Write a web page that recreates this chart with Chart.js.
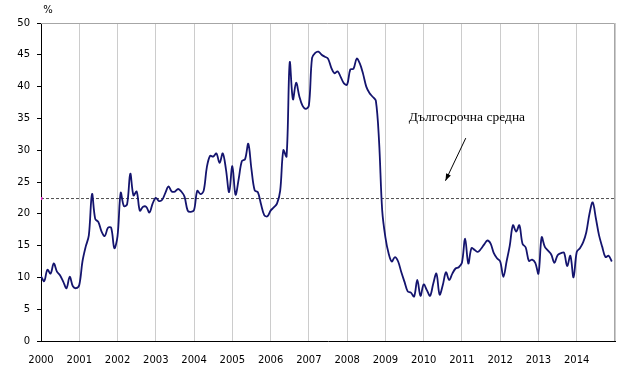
<!DOCTYPE html>
<html><head><meta charset="utf-8">
<script src="https://cdn.jsdelivr.net/npm/chart.js@4/dist/chart.umd.min.js"></script>
<style>html,body{margin:0;padding:0;background:#fff;}canvas{display:block;}</style>
</head><body>
<canvas id="c" width="635" height="370"></canvas>
<script>
// Tick labels (years) and monthly series, one array per year
const yearLabels = ['2000','2001','2002','2003','2004','2005','2006','2007','2008','2009','2010','2011','2012','2013','2014'];
const startYear = 2000;
const v2000 = [10.2, 9.4, 11.2, 10.6, 12.2, 10.9, 10.3, 9.3, 8.3, 10.1, 8.6, 8.3];
const v2001 = [8.8, 12.5, 14.8, 16.6, 23.1, 19.2, 18.7, 17.2, 16.5, 17.8, 17.8, 14.6];
const v2002 = [16.5, 23.3, 21.2, 21.5, 26.3, 22.9, 23.5, 20.5, 21.1, 21.1, 20.2, 21.6];
const v2003 = [22.5, 22.0, 22.2, 23.3, 24.3, 23.5, 23.5, 23.9, 23.5, 22.7, 20.5, 20.3];
const v2004 = [20.6, 23.6, 23.1, 23.6, 27.3, 29.1, 29.0, 29.5, 28.0, 29.5, 27.0, 23.4];
const v2005 = [27.5, 23.0, 25.5, 28.3, 28.6, 31.0, 27.0, 23.7, 23.4, 21.5, 19.8, 19.6];
const v2006 = [20.5, 21.0, 21.6, 23.6, 30.0, 29.0, 43.8, 38.0, 40.6, 38.5, 37.0, 36.5];
const v2007 = [37.0, 44.5, 45.3, 45.5, 45.0, 44.7, 44.4, 43.0, 42.1, 42.4, 41.5, 40.5];
const v2008 = [40.3, 42.7, 42.8, 44.4, 43.6, 42.0, 40.0, 39.0, 38.4, 37.8, 31.5, 20.5];
const v2009 = [16.3, 13.8, 12.5, 13.2, 12.5, 10.8, 9.3, 7.8, 7.6, 7.0, 9.6, 7.1];
const v2010 = [8.9, 8.0, 7.1, 9.0, 10.6, 7.3, 8.8, 10.8, 9.6, 10.6, 11.4, 11.6];
const v2011 = [12.3, 16.1, 12.2, 14.6, 14.3, 14.0, 14.5, 15.2, 15.8, 15.3, 13.8, 13.0];
const v2012 = [12.5, 10.1, 12.5, 15.0, 18.2, 17.2, 18.2, 15.3, 14.7, 12.6, 12.8, 12.3];
const v2013 = [10.6, 16.3, 14.8, 14.2, 13.6, 12.3, 13.5, 13.8, 13.9, 11.8, 13.4, 10.0];
const v2014 = [14.0, 14.6, 15.5, 17.1, 20.0, 21.8, 19.3, 16.6, 14.8, 13.2, 13.4, 12.5];
const monthlyValues = [].concat(v2000, v2001, v2002, v2003, v2004, v2005, v2006, v2007,
  v2008, v2009, v2010, v2011, v2012, v2013, v2014);
const longTermAverage = 22.4;
const unitLabel = '%';
const noteText = 'Дългосрочна средна';
const notePos = [2011.13, 35.2];          // text anchor (x in years, y in %)
const arrowFrom = [2011.1, 31.9];
const arrowTo = [2010.57, 25.2];

const endYear = startYear + yearLabels.length;
const lineData = monthlyValues.map((v, i) => ({x: startYear + i / 12, y: v}));

Chart.defaults.font.family = '"DejaVu Sans", Verdana, sans-serif';
Chart.defaults.font.size = 10;
Chart.defaults.color = '#000';

const decor = {
  id: 'decor',
  afterDraw(chart) {
    const {ctx, chartArea: a, scales: {x, y}} = chart;
    ctx.save();
    // top and right frame
    ctx.strokeStyle = '#a6a6a6';
    ctx.lineWidth = 1;
    ctx.beginPath();
    ctx.moveTo(a.left, a.top + 0.5);
    ctx.lineTo(a.right - 0.5, a.top + 0.5);
    ctx.lineTo(a.right - 0.5, a.bottom);
    ctx.stroke();
    // unit label
    ctx.fillStyle = '#000';
    ctx.font = '10px "DejaVu Sans", Verdana, sans-serif';
    ctx.textAlign = 'center';
    ctx.textBaseline = 'middle';
    ctx.fillText(unitLabel, a.left + 7, 10);
    // note text
    ctx.font = '13.5px "Liberation Serif", "Times New Roman", serif';
    ctx.fillText(noteText, x.getPixelForValue(notePos[0]), y.getPixelForValue(notePos[1]));
    // arrow
    const x1 = x.getPixelForValue(arrowFrom[0]), y1 = y.getPixelForValue(arrowFrom[1]);
    const x2 = x.getPixelForValue(arrowTo[0]), y2 = y.getPixelForValue(arrowTo[1]);
    ctx.strokeStyle = '#000';
    ctx.lineWidth = 1;
    ctx.beginPath();
    ctx.moveTo(x1, y1);
    ctx.lineTo(x2, y2);
    ctx.stroke();
    const ang = Math.atan2(y2 - y1, x2 - x1);
    const L = 7, W = 2.6;
    ctx.beginPath();
    ctx.moveTo(x2, y2);
    ctx.lineTo(x2 - L * Math.cos(ang) + W * Math.sin(ang), y2 - L * Math.sin(ang) - W * Math.cos(ang));
    ctx.lineTo(x2 - L * Math.cos(ang) - W * Math.sin(ang), y2 - L * Math.sin(ang) + W * Math.cos(ang));
    ctx.closePath();
    ctx.fillStyle = '#000';
    ctx.fill();
    ctx.restore();
  }
};

new Chart(document.getElementById('c'), {
  type: 'line',
  data: {
    datasets: [
      {
        data: lineData,
        borderColor: '#14146e',
        borderWidth: 1.8,
        pointRadius: 0,
        tension: 0.35,
        fill: false
      },
      {
        data: [{x: startYear, y: longTermAverage}, {x: endYear, y: longTermAverage}],
        borderColor: '#505050',
        borderWidth: 1,
        borderDash: [3, 2],
        pointRadius: [2, 0],
        pointStyle: 'rect',
        pointBackgroundColor: '#e020c8',
        pointBorderWidth: 0,
        tension: 0,
        fill: false
      }
    ]
  },
  options: {
    responsive: false,
    animation: false,
    events: [],
    layout: {padding: {left: 0, top: 23, right: 20, bottom: 0}},
    plugins: {legend: {display: false}, tooltip: {enabled: false}},
    scales: {
      x: {
        type: 'linear',
        min: startYear,
        max: endYear,
        afterBuildTicks(axis) {
          const t = [];
          for (let yv = startYear; yv <= endYear; yv++) t.push({value: yv});
          axis.ticks = t;
        },
        afterFit(scale) { scale.height = 29; },
        ticks: {
          padding: 13,
          maxRotation: 0,
          autoSkip: false,
          callback: (v) => yearLabels[v - startYear] || ''
        },
        grid: {color: '#cccccc', lineWidth: 1, drawTicks: false},
        border: {display: true, color: '#000', width: 1}
      },
      y: {
        min: 0,
        max: 50,
        afterFit(scale) { scale.width = 41; },
        ticks: {stepSize: 5, padding: 7},
        grid: {drawOnChartArea: false, drawTicks: true, tickLength: 4, color: '#000'},
        border: {display: true, color: '#000', width: 1}
      }
    }
  },
  plugins: [decor]
});
</script>
</body></html>
